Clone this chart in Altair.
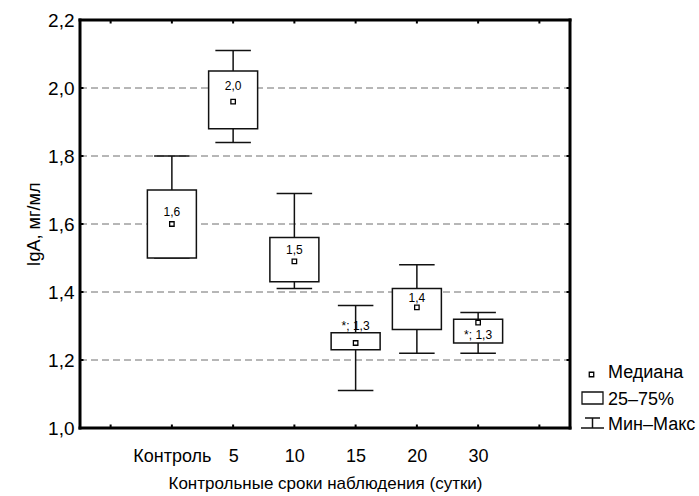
import json
import altair as alt
import pandas as pd

# ---- data ----
categories = ["Контроль", "5", "10", "15", "20", "30"]
q_min = [1.50, 1.84, 1.41, 1.11, 1.22, 1.22]
q1 = [1.50, 1.88, 1.43, 1.23, 1.29, 1.25]
median = [1.60, 1.96, 1.49, 1.25, 1.355, 1.31]
q3 = [1.70, 2.05, 1.56, 1.28, 1.41, 1.32]
q_max = [1.80, 2.11, 1.69, 1.36, 1.48, 1.34]
labels = ["1,6", "2,0", "1,5", "*; 1,3", "1,4", "*; 1,3"]
label_y = [1.636, 2.005, 1.524, 1.30, 1.383, 1.274]
y_ticks = [1.0, 1.2, 1.4, 1.6, 1.8, 2.0, 2.2]
x_ticks = list(range(len(categories) + 2))
legend_labels = ["Медиана", "25–75%", "Мин–Макс"]
x_title = "Контрольные сроки наблюдения (сутки)"
y_title = "IgA, мг/мл"

W, H = 490, 408
FONT = "Liberation Sans"

df = pd.DataFrame({
    "cat": categories,
    "pos": list(range(1, len(categories) + 1)),
    "mn": q_min, "q1": q1, "med": median, "q3": q3, "mx": q_max,
    "lab": labels, "laby": label_y,
})

tick_labels = [""] + categories + [""]
label_expr = json.dumps(tick_labels) + "[datum.value]"

xscale = alt.Scale(domain=[-0.5, len(categories) + 1.5], nice=False, zero=False)
yscale = alt.Scale(domain=[1.0, 2.2], nice=False, zero=False)

base = alt.Chart(df)

x_axis = alt.Axis(values=x_ticks, labelExpr=label_expr, tickSize=0, domain=False,
                  grid=False, labelFontSize=18, labelPadding=19, labelColor="black",
                  title=x_title, titleFontSize=17, titleFontWeight="normal",
                  titlePadding=10, titleColor="black", labelFont=FONT, titleFont=FONT)
y_axis = alt.Axis(values=y_ticks, labelExpr="replace(format(datum.value, '.1f'), '.', ',')",
                  tickSize=0, domain=False, grid=False, labelFontSize=19, labelPadding=6,
                  labelColor="black", title=y_title, titleFontSize=18,
                  titleFontWeight="normal", titlePadding=4, titleColor="black",
                  labelFont=FONT, titleFont=FONT)

# axes carrier (invisible points)
axes = base.mark_point(opacity=0).encode(
    x=alt.X("pos:Q", scale=xscale, axis=x_axis),
    y=alt.Y("med:Q", scale=yscale, axis=y_axis),
)

grid_df = pd.DataFrame({"v": y_ticks[1:-1]})
grid = alt.Chart(grid_df).mark_rule(color="#6e6e6e", strokeWidth=1, strokeDash=[7, 4]).encode(
    y=alt.Y("v:Q", scale=yscale), x=alt.value(0), x2=alt.value(W)
)

xt_df = pd.DataFrame({"t": x_ticks})
yt_df = pd.DataFrame({"v": y_ticks})
tick_style = dict(color="black", strokeWidth=2)
ticks_bottom = alt.Chart(xt_df).mark_rule(**tick_style).encode(
    x=alt.X("t:Q", scale=xscale), y=alt.value(H), y2=alt.value(H - 3.5))
ticks_top = alt.Chart(xt_df).mark_rule(**tick_style).encode(
    x=alt.X("t:Q", scale=xscale), y=alt.value(0), y2=alt.value(3.5))
ticks_left = alt.Chart(yt_df).mark_rule(**tick_style).encode(
    y=alt.Y("v:Q", scale=yscale), x=alt.value(0), x2=alt.value(3.5))
ticks_right = alt.Chart(yt_df).mark_rule(**tick_style).encode(
    y=alt.Y("v:Q", scale=yscale), x=alt.value(W), x2=alt.value(W - 3.5))

# plot frame (four black rules)
one = alt.Chart(pd.DataFrame({"t": [0]}))
frame_style = dict(color="#000000", strokeWidth=3, strokeCap="square", opacity=1)
frame_l = one.mark_rule(**frame_style).encode(x=alt.value(0), y=alt.value(0), y2=alt.value(H))
frame_r = one.mark_rule(**frame_style).encode(x=alt.value(W), y=alt.value(0), y2=alt.value(H))
frame_t = one.mark_rule(**frame_style).encode(y=alt.value(0), x=alt.value(0), x2=alt.value(W))
frame_b = one.mark_rule(**frame_style).encode(y=alt.value(H), x=alt.value(0), x2=alt.value(W))

line_style = dict(color="#111111", strokeWidth=1.5)

whisk_hi = base.mark_rule(**line_style).encode(
    x=alt.X("pos:Q", scale=xscale), y=alt.Y("q3:Q", scale=yscale), y2="mx:Q")
whisk_lo = base.mark_rule(**line_style).encode(
    x=alt.X("pos:Q", scale=xscale), y=alt.Y("mn:Q", scale=yscale), y2="q1:Q")

caps = base.transform_calculate(xa="datum.pos - 0.29", xb="datum.pos + 0.29")
cap_hi = caps.mark_rule(**line_style).encode(
    x=alt.X("xa:Q", scale=xscale), x2="xb:Q", y=alt.Y("mx:Q", scale=yscale))
cap_lo = caps.mark_rule(**line_style).encode(
    x=alt.X("xa:Q", scale=xscale), x2="xb:Q", y=alt.Y("mn:Q", scale=yscale))

boxes = base.transform_calculate(xa="datum.pos - 0.4", xb="datum.pos + 0.4").mark_rect(
    fill="white", stroke="#111111", strokeWidth=1.5).encode(
    x=alt.X("xa:Q", scale=xscale), x2="xb:Q",
    y=alt.Y("q1:Q", scale=yscale), y2="q3:Q")

meds = base.mark_square(size=20, filled=False, fill="white", stroke="black",
                        strokeWidth=1.3, opacity=1).encode(
    x=alt.X("pos:Q", scale=xscale), y=alt.Y("med:Q", scale=yscale))

texts = base.mark_text(font=FONT, fontSize=12, color="black", baseline="middle").encode(
    x=alt.X("pos:Q", scale=xscale), y=alt.Y("laby:Q", scale=yscale), text="lab:N")

# ---- legend (drawn to the right of the plot) ----
leg = one
leg_sq = leg.mark_square(size=20, filled=False, fill="white", stroke="black",
                         strokeWidth=1.3, opacity=1).encode(
    x=alt.value(511.5), y=alt.value(354.5))
leg_rect = leg.mark_rect(fill="white", stroke="#111111", strokeWidth=1.3).encode(
    x=alt.value(502), x2=alt.value(523), y=alt.value(372), y2=alt.value(384))
leg_w1 = leg.mark_rule(**line_style).encode(
    x=alt.value(505), x2=alt.value(520), y=alt.value(398))
leg_w2 = leg.mark_rule(**line_style).encode(
    x=alt.value(512.5), y=alt.value(398), y2=alt.value(408))
leg_w3 = leg.mark_rule(**line_style).encode(
    x=alt.value(501), x2=alt.value(524), y=alt.value(408))


def leg_text(i, y):
    d = pd.DataFrame({"t": [legend_labels[i]]})
    return alt.Chart(d).mark_text(font=FONT, fontSize=18, align="left",
                                  baseline="middle", color="black").encode(
        x=alt.value(528), y=alt.value(y), text="t:N")


chart = alt.layer(
    axes, grid, ticks_bottom, ticks_top, ticks_left, ticks_right,
    whisk_hi, whisk_lo, cap_hi, cap_lo, boxes, meds, texts,
    frame_l, frame_r, frame_t, frame_b,
    leg_sq, leg_rect, leg_w1, leg_w2, leg_w3,
    leg_text(0, 353), leg_text(1, 380), leg_text(2, 405),
).properties(
    width=W, height=H,
    autosize=alt.AutoSizeParams(type="none"),
    padding={"left": 80, "top": 20, "right": 129, "bottom": 68},
).configure(
    background="white",
    view=alt.ViewConfig(strokeWidth=0),
)

chart.save("out.html", embed_options={"renderer": "svg", "actions": False})
